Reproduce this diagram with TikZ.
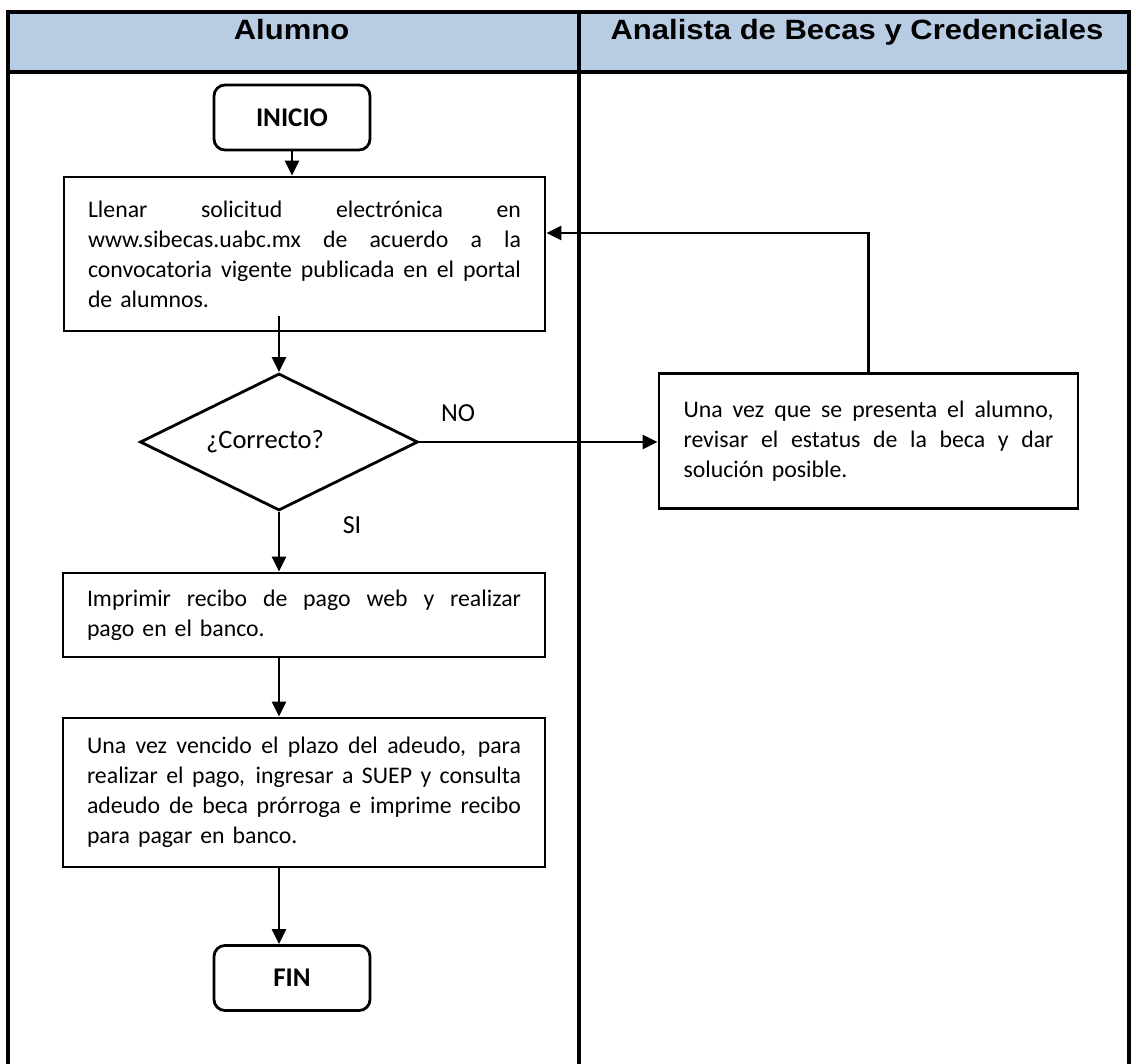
\documentclass[tikz,border=0pt]{standalone}
\usepackage{fontspec}
\usepackage{graphicx}
\setmainfont{Carlito}
\newfontfamily\headfont{Liberation Sans}
\usetikzlibrary{arrows.meta,shapes.geometric}
\definecolor{laneHead}{HTML}{B8CCE4}
% one fully justified line of a text box: \jline[width]{words}
\newcommand\jline[2][433pt]{\hbox to #1{\spaceskip=0pt plus 1fil\relax #2}}
% lane titles, slightly flattened bold sans
\newcommand\lanetitle[1]{\scalebox{1}[0.9]{#1}}
\begin{document}
\begin{tikzpicture}[x=1pt,y=-1pt,
  lane/.style={line width=3.5pt},
  procbox/.style={draw, line width=2.8pt, rectangle, inner sep=0pt, align=left,
    font=\fontsize{23.8}{30}\selectfont},
  term/.style={draw, line width=2.8pt, rounded corners=11pt, minimum width=156pt,
    minimum height=65pt, inner sep=0pt, font=\fontsize{27}{30}\selectfont\bfseries},
  decision/.style={draw, line width=2.8pt, diamond, aspect=2.03, minimum width=278pt,
    minimum height=137pt, inner sep=0pt, font=\fontsize{26.5}{30}\selectfont},
  flow/.style={line width=2.6pt, -{Triangle[length=15pt,width=14pt]}},
  tag/.style={font=\fontsize{26}{30}\selectfont},
  headtxt/.style={anchor=base, inner sep=0pt, font=\headfont\bfseries\fontsize{31}{34}\selectfont}
]
\useasboundingbox (0,0) rectangle (1136,1064);

% swimlane frame and header band
\fill[laneHead] (8,12) rectangle (1129,72);
\draw[lane] (8,1064) -- (8,12) -- (1129,12) -- (1129,1064);
\draw[lane] (8,72) -- (1129,72);
\draw[lane] (579,12) -- (579,1064);

\node[headtxt] (hA) at (291.5,40) {\lanetitle{Alumno}};
\node[headtxt] (hB) at (857,40) {\lanetitle{Analista de Becas y Credenciales}};

% flowchart nodes
\node[term] (ini) at (292,117.5) {INICIO};
\node[procbox, minimum width=481pt, minimum height=154pt, text width=433pt] (b1) at (304.5,254)
  {\jline{Llenar solicitud electrónica en}
   \jline{www.sibecas.uabc.mx de acuerdo a la}
   \jline{convocatoria vigente publicada en el portal}
   de alumnos.};
\node[decision] (dec) at (279,442) {\hspace*{-28pt}¿Correcto?};
\node[procbox, minimum width=419pt, minimum height=135pt, text width=370pt] (b3) at (868.5,441)
  {\jline[370pt]{Una vez que se presenta el alumno,}
   \jline[370pt]{revisar el estatus de la beca y dar}
   solución posible.\par\vspace*{10pt}};
\node[procbox, minimum width=482pt, minimum height=84pt, text width=434pt] (b2) at (304,615)
  {\jline[434pt]{Imprimir recibo de pago web y realizar}
   pago en el banco.};
\node[procbox, minimum width=482pt, minimum height=149pt, text width=434pt] (b4) at (304,792.5)
  {\jline[434pt]{Una vez vencido el plazo del adeudo, para}
   \jline[434pt]{realizar el pago, ingresar a SUEP y consulta}
   \jline[434pt]{adeudo de beca prórroga e imprime recibo}
   para pagar en banco.};
\node[term] (fin) at (292,978) {FIN};

\node[tag] (no) at (458,413) {NO};
\node[tag] (si) at (352,525) {SI};

% connectors
\draw[flow] (ini.south) -- (ini.south |- b1.north);
\draw[flow] (b1.south -| dec.north) ++(0,-16) -- (dec.north);
\draw[flow] (dec.east) -- (dec.east -| b3.west);
\draw[flow] (dec.south) -- (dec.south |- b2.north);
\draw[flow] (b2.south -| dec.south) -- (b4.north -| dec.south);
\draw[flow] (b4.south -| dec.south) -- (fin.north -| dec.south);
\coordinate (loop) at (b3.north |- 0,233);
\draw[flow] (b3.north) -- (loop) -- (loop -| b1.east);
\end{tikzpicture}
\end{document}
